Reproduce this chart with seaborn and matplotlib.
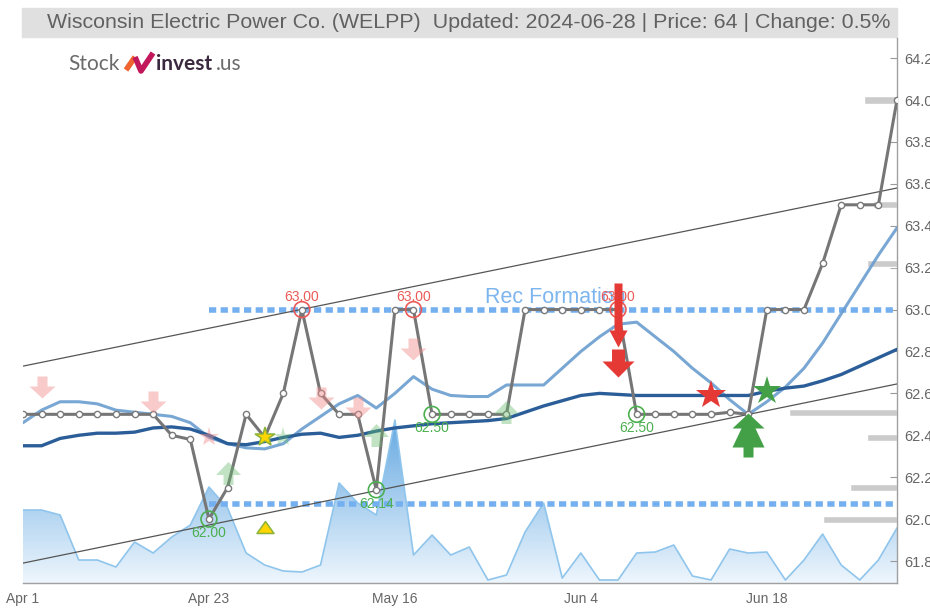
import numpy as np
import pandas as pd
import matplotlib
matplotlib.use("Agg")
import matplotlib.pyplot as plt
from matplotlib.path import Path
from matplotlib.patches import Rectangle
from matplotlib.lines import Line2D
from matplotlib.colors import LinearSegmentedColormap
import seaborn as sns

# x axis (trading-day index) and labels
tick_pos = [0, 10, 20, 30, 40]
tick_labels = ["Apr 1", "Apr 23", "May 16", "Jun 4", "Jun 18"]
y_ticks = [61.8, 62.0, 62.2, 62.4, 62.6, 62.8, 63.0, 63.2, 63.4, 63.6, 63.8, 64.0, 64.2]

price = [62.50, 62.50, 62.50, 62.50, 62.50, 62.50, 62.50, 62.50, 62.40, 62.38,
         62.00, 62.15, 62.50, 62.39, 62.60, 63.00, 62.60, 62.50, 62.50, 62.14,
         63.00, 63.00, 62.50, 62.50, 62.50, 62.50, 62.50, 63.00, 63.00, 63.00,
         63.00, 63.00, 63.00, 62.50, 62.50, 62.50, 62.50, 62.50, 62.51, 62.50,
         63.00, 63.00, 63.00, 63.22, 63.50, 63.50, 63.50, 64.00]

ma_fast = [62.46, 62.52, 62.56, 62.56, 62.55, 62.52, 62.51, 62.50, 62.49, 62.46,
           62.39, 62.36, 62.34, 62.335, 62.36, 62.43, 62.49, 62.55, 62.59, 62.53,
           62.60, 62.68, 62.62, 62.59, 62.585, 62.585, 62.64, 62.64, 62.64, 62.72,
           62.80, 62.87, 62.93, 62.94, 62.87, 62.80, 62.72, 62.65, 62.57, 62.50,
           62.56, 62.63, 62.72, 62.84, 62.98, 63.12, 63.26, 63.39]

ma_slow = [62.35, 62.35, 62.385, 62.40, 62.41, 62.41, 62.415, 62.435, 62.44, 62.43,
           62.40, 62.36, 62.355, 62.37, 62.39, 62.405, 62.41, 62.39, 62.40, 62.42,
           62.435, 62.445, 62.455, 62.46, 62.465, 62.47, 62.48, 62.51, 62.54, 62.565,
           62.59, 62.60, 62.595, 62.59, 62.59, 62.59, 62.59, 62.59, 62.59, 62.59,
           62.61, 62.625, 62.635, 62.66, 62.69, 62.73, 62.77, 62.81]

volume = [73, 73, 68, 23, 23, 16, 41, 30, 46, 58,
          96, 75, 30, 18, 12, 11, 18, 100, 80, 68,
          163, 28, 48, 28, 36, 3, 8, 51, 80, 5,
          30, 3, 3, 30, 31, 38, 7, 3, 34, 30,
          31, 3, 23, 49, 18, 3, 23, 55]

channel_idx = [0, 47]
channel_upper = [62.73, 63.58]
channel_lower = [61.79, 62.645]

resistance = 63.00
support = 62.07
level_start = 10

profile_levels = [64.00, 63.50, 63.22, 62.51, 62.39, 62.15, 62.00]
profile_len = [1.8, 1.3, 1.6, 5.8, 1.6, 2.5, 4.0]

peak_idx = [15, 21, 32]
trough_idx = [10, 19, 22, 33]

sell_hint_idx = [1, 7, 16, 18, 21]
sell_hint_val = [62.63, 62.56, 62.58, 62.53, 62.81]
sell_star_idx = [10]
sell_star_val = [62.39]
buy_hint_idx = [11, 19, 26]
buy_hint_val = [62.22, 62.40, 62.51]
buy_star_faded_idx = [14]
buy_star_faded_val = [62.39]
yellow_idx = [13]
yellow_star_val = [62.39]
yellow_tri_val = [61.96]
strong_sell_idx = [32]
strong_sell_long_val = [62.976]
strong_sell_short_val = [62.746]
red_star_idx = [37]
red_star_val = [62.59]
green_star_idx = [40]
green_star_val = [62.61]
strong_buy_idx = [39]
strong_buy_val = [62.40]

df = pd.DataFrame({"idx": np.arange(len(price)), "price": price,
                   "ma_fast": ma_fast, "ma_slow": ma_slow, "volume": volume})


def arrow_path(shaft_w, shaft_len, head_w, head_len, up=False):
    h = (shaft_len + head_len) / 2
    neck = h - shaft_len
    v = [(-shaft_w / 2, h), (shaft_w / 2, h), (shaft_w / 2, neck), (head_w / 2, neck),
         (0, -h), (-head_w / 2, neck), (-shaft_w / 2, neck), (-shaft_w / 2, h)]
    if up:
        v = [(x, -y) for x, y in v]
    return Path(v, closed=True)


def msize(path):
    return 2 * np.abs(path.vertices).max() * 0.72


sell_arrow = arrow_path(10, 10, 26, 12)
buy_arrow = arrow_path(10, 10, 25, 13, up=True)
long_red = arrow_path(8, 47, 18, 17)
short_red = arrow_path(13, 12, 32, 16)
tree = Path([(0, 22), (16, 7), (7, 7), (16, -12), (5, -12), (5, -22), (-5, -22),
             (-5, -12), (-16, -12), (-7, 7), (-16, 7), (0, 22)], closed=True)
tri = Path([(0, 6), (8.5, -6), (-8.5, -6), (0, 6)], closed=True)

sns.set_style("white")
plt.rcParams["font.family"] = ["Liberation Sans", "DejaVu Sans"]

fig = plt.figure(figsize=(9.3, 6.08), dpi=100)
ax = fig.add_axes([0.0247, 0.0411, 0.9398, 0.8964])
ax2 = ax.twinx()
ax.set_zorder(ax2.get_zorder() + 1)
ax.patch.set_visible(False)

# volume area with vertical gradient
poly = ax2.fill_between(df["idx"], 0, df["volume"], color="none", lw=0)
grad = np.linspace(0, 1, 256).reshape(-1, 1)
cmap = LinearSegmentedColormap.from_list("vol", ["#eef6fd", "#5fa5e0"])
im = ax2.imshow(grad, extent=[0, 47, 0, 170], origin="lower", aspect="auto",
                cmap=cmap, zorder=1)
im.set_clip_path(poly.get_paths()[0], transform=ax2.transData)
sns.lineplot(data=df, x="idx", y="volume", ax=ax2, color="#8fc5ec", lw=1.2, zorder=2)
ax2.set_ylim(0, 545)
ax2.axis("off")

# volume profile bars on the right
ax.barh(profile_levels, [-w for w in profile_len], left=47, height=0.034,
        color="#cbcbcb", zorder=1)

# support / resistance
ax.hlines([resistance, support], level_start, 47, color="#74b0ef", lw=4,
          linestyles=(0, (1.3, 0.8)), zorder=3)
ax.annotate("Rec Formation", (24.85, resistance), xytext=(0, 5), textcoords="offset points",
            ha="left", va="baseline", color="#7db5ee", fontsize=15.5, zorder=3)

# trend channel
ax.plot(channel_idx, channel_upper, color="#555555", lw=0.9, zorder=5)
ax.plot(channel_idx, channel_lower, color="#555555", lw=0.9, zorder=5)

# moving averages
sns.lineplot(data=df, x="idx", y="ma_fast", ax=ax, color="#6b9ed0", lw=2.2, alpha=0.9, zorder=4)
sns.lineplot(data=df, x="idx", y="ma_slow", ax=ax, color="#2b5e98", lw=2.4, zorder=4)

# price
sns.lineplot(data=df, x="idx", y="price", ax=ax, color="#767676", lw=2.2, marker="o",
             markersize=4.5, markerfacecolor="white", markeredgecolor="#7a7a7a",
             markeredgewidth=1, zorder=6)

# peaks / troughs
pk = [price[i] for i in peak_idx]
tr = [price[i] for i in trough_idx]
ax.scatter(peak_idx, pk, s=130, facecolors="none", edgecolors="#ea5a57", lw=1.2, zorder=7)
ax.scatter(trough_idx, tr, s=130, facecolors="none", edgecolors="#4caf50", lw=1.2, zorder=7)
for i, v in zip(peak_idx, pk):
    ax.annotate(f"{v:.2f}", (i, v), xytext=(0, 9), textcoords="offset points",
                ha="center", va="center", color="#ea5a57", fontsize=10, zorder=7)
for i, v in zip(trough_idx, tr):
    ax.annotate(f"{v:.2f}", (i, v), xytext=(0, -10), textcoords="offset points",
                ha="center", va="center", color="#4caf50", fontsize=10, zorder=7)

# faded hints
ax.plot(sell_hint_idx, sell_hint_val, ls="none", marker=sell_arrow, markersize=msize(sell_arrow),
        color="#f08a8a", alpha=0.45, mew=0, zorder=8)
ax.plot(sell_star_idx, sell_star_val, ls="none", marker="*", markersize=15,
        color="#f08a8a", alpha=0.45, mew=0, zorder=8)
ax.plot(buy_hint_idx, buy_hint_val, ls="none", marker=buy_arrow, markersize=msize(buy_arrow),
        color="#66bb6a", alpha=0.4, mew=0, zorder=8)
ax.plot(buy_star_faded_idx, buy_star_faded_val, ls="none", marker="*", markersize=14,
        color="#66bb6a", alpha=0.35, mew=0, zorder=8)

# strong signals
ax.plot(yellow_idx, yellow_star_val, ls="none", marker="*", markersize=15,
        color="#ffd500", mec="#8cb33b", mew=1.1, zorder=9)
ax.plot(yellow_idx, yellow_tri_val, ls="none", marker=tri, markersize=msize(tri),
        color="#ffd500", mec="#8cb33b", mew=1.1, zorder=9)
ax.plot(strong_sell_idx, strong_sell_long_val, ls="none", marker=long_red,
        markersize=msize(long_red), color="#e53935", mew=0, zorder=9)
ax.plot(strong_sell_idx, strong_sell_short_val, ls="none", marker=short_red,
        markersize=msize(short_red), color="#e53935", mew=0, zorder=9)
ax.plot(red_star_idx, red_star_val, ls="none", marker="*", markersize=22,
        color="#e53935", mew=0, zorder=9)
ax.plot(green_star_idx, green_star_val, ls="none", marker="*", markersize=21,
        color="#43a047", mew=0, zorder=9)
ax.plot(strong_buy_idx, strong_buy_val, ls="none", marker=tree, markersize=msize(tree),
        color="#43a047", mew=0, zorder=9)

# axes styling
ax.set_xlim(0, 47)
ax.set_ylim(61.695, 64.296)
ax.yaxis.tick_right()
ax.set_yticks(y_ticks)
ax.set_yticklabels([f"{v:.1f}" for v in y_ticks])
ax.set_xticks(tick_pos)
ax.set_xticklabels(tick_labels)
ax.set_xlabel("")
ax.set_ylabel("")
ax.tick_params(axis="y", direction="in", length=5, color="#999999", labelcolor="#666666",
               labelsize=10.5, pad=5, right=True, left=False)
ax.tick_params(axis="x", direction="out", length=5, color="#999999", labelcolor="#666666",
               labelsize=10, pad=1.5)
for s in ["left", "top"]:
    ax.spines[s].set_visible(False)
for s in ["right", "bottom"]:
    ax.spines[s].set_visible(True)
    ax.spines[s].set_color("#a0a0a0")
    ax.spines[s].set_linewidth(1)

# title bar
fig.add_artist(Rectangle((22 / 930, 1 - 37 / 608), 875 / 930, 29 / 608,
                         transform=fig.transFigure, color="#e0e0e0", zorder=0))
fig.text(890 / 930, 1 - 22 / 608,
         "Wisconsin Electric Power Co. (WELPP)  Updated: 2024-06-28 | Price: 64 | Change: 0.5%",
         ha="right", va="center", fontsize=15.4, color="#616161")

# logo
fig.text(68 / 930, 1 - 64 / 608, "Stock", ha="left", va="center", fontsize=15,
         color="#6b6b6b", family=["Lato", "DejaVu Sans"])
fig.text(156 / 930, 1 - 64 / 608, "invest", ha="left", va="center", fontsize=15,
         color="#3b2a3f", fontweight="bold", family=["Lato", "DejaVu Sans"])
fig.text(216 / 930, 1 - 64 / 608, ".us", ha="left", va="center", fontsize=15,
         color="#6b6b6b", family=["Lato", "DejaVu Sans"])
fig.add_artist(Line2D([126 / 930, 135 / 930], [1 - 70 / 608, 1 - 57 / 608],
                      transform=fig.transFigure, color="#f0652f", lw=4, solid_capstyle="butt"))
fig.add_artist(Line2D([135 / 930, 141 / 930, 153 / 930], [1 - 57 / 608, 1 - 71 / 608, 1 - 53 / 608],
                      transform=fig.transFigure, color="#c2185b", lw=4, solid_capstyle="butt"))

fig.savefig("out.png", dpi=100)
